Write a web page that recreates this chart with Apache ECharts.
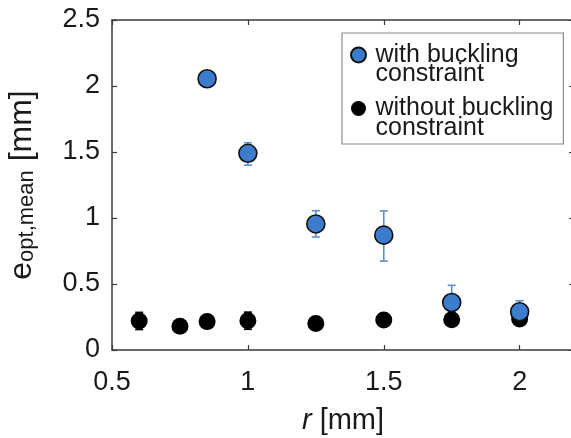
<!DOCTYPE html>
<html><head><meta charset="utf-8">
<script src="https://cdn.jsdelivr.net/npm/echarts@6/dist/echarts.min.js"></script>
<style>html,body{margin:0;padding:0;background:#fff}#c{width:571px;height:438px}</style>
</head><body><div id="c"></div>
<script>
// ---- data ----
const withR    = [0.85, 1.0, 1.25, 1.5, 1.75, 2.0];
const withMean = [2.055, 1.49, 0.955, 0.87, 0.36, 0.29];
const withLow  = [2.055, 1.40, 0.856, 0.674, 0.227, 0.215];
const withHigh = [2.055, 1.57, 1.055, 1.053, 0.49, 0.373];

const withoutR    = [0.6, 0.75, 0.85, 1.0, 1.25, 1.5, 1.75, 2.0];
const withoutMean = [0.22, 0.18, 0.215, 0.222, 0.20, 0.227, 0.23, 0.235];
const withoutLow  = [0.155, 0.18, 0.215, 0.157, 0.20, 0.19, 0.20, 0.205];
const withoutHigh = [0.285, 0.18, 0.215, 0.287, 0.20, 0.265, 0.26, 0.265];

const seriesNames = ['with buckling\nconstraint', 'without buckling\nconstraint'];
const xLabel = ['r', ' [mm]'];
const yLabel = ['e', 'opt,mean', ' [mm]'];

// ---- chart ----
const FONT = '"Liberation Sans", Arial, Helvetica, sans-serif';
const AX = '#3a3a3a';
const BLUE = '#3b7ccc';
const BLUE_ERR = '#5a8fd0';

function errSeries(name, xs, lo, hi, color) {
  return {
    type: 'custom', name: name, silent: true,
    data: xs.map((x, i) => [x, lo[i], hi[i]]),
    encode: { x: 0, y: [1, 2] },
    renderItem: function (params, api) {
      const x = api.value(0);
      const a = api.coord([x, api.value(1)]);
      const b = api.coord([x, api.value(2)]);
      const w = 4;
      const st = { stroke: color, lineWidth: 1.6 };
      return { type: 'group', children: [
        { type: 'line', shape: { x1: a[0], y1: a[1], x2: b[0], y2: b[1] }, style: st },
        { type: 'line', shape: { x1: a[0] - w, y1: a[1], x2: a[0] + w, y2: a[1] }, style: st },
        { type: 'line', shape: { x1: b[0] - w, y1: b[1], x2: b[0] + w, y2: b[1] }, style: st }
      ]};
    }
  };
}

const axisCommon = {
  axisLine: { show: true, onZero: false, lineStyle: { color: AX, width: 1.5 } },
  axisTick: { show: true, inside: true, length: 5, lineStyle: { color: AX, width: 1.2 } },
  splitLine: { show: false }
};

const chart = echarts.init(document.getElementById('c'));
chart.setOption({
  animation: false,
  backgroundColor: '#fff',
  grid: { left: 112, right: -3, top: 20, bottom: 88, containLabel: false, outerBoundsMode: 'none' },
  legend: {
    data: seriesNames,
    orient: 'vertical',
    left: 342, top: 33,
    backgroundColor: '#fff',
    borderColor: '#8a8a8a', borderWidth: 1.2,
    padding: [-10, 10, 3.5, 8],
    itemWidth: 24, itemHeight: 15, itemGap: -10.5,
    icon: 'circle',
    selectedMode: false,
    formatter: name => '\n' + name,
    textStyle: { fontFamily: FONT, fontSize: 25, lineHeight: 19.5, color: '#1a1a1a' }
  },
  xAxis: [
    Object.assign({}, axisCommon, {
      type: 'value', min: 0.5, max: 2.2, interval: 0.5, position: 'bottom',
      name: '{i|' + xLabel[0] + '}' + xLabel[1], nameLocation: 'middle', nameGap: 56,
      nameTextStyle: { fontFamily: FONT, fontSize: 29, color: '#1a1a1a',
        rich: { i: { fontFamily: FONT, fontSize: 29, fontStyle: 'italic', color: '#1a1a1a' } } },
      axisLabel: { fontFamily: FONT, fontSize: 27, color: '#1a1a1a', margin: 19, showMaxLabel: false,
        formatter: v => String(v) }
    }),
    Object.assign({}, axisCommon, {
      type: 'value', min: 0.5, max: 2.2, interval: 0.5, position: 'top',
      axisLabel: { show: false }
    })
  ],
  yAxis: [
    Object.assign({}, axisCommon, {
      type: 'value', min: 0, max: 2.5, interval: 0.5, position: 'left',
      name: '{b|' + yLabel[0] + '}{s|' + yLabel[1] + '}{b|' + yLabel[2] + '}',
      nameLocation: 'middle', nameGap: 74,
      nameTextStyle: { fontFamily: FONT, color: '#1a1a1a',
        rich: {
          b: { fontFamily: FONT, fontSize: 32, color: '#1a1a1a', lineHeight: 32, verticalAlign: 'top' },
          s: { fontFamily: FONT, fontSize: 22, color: '#1a1a1a', lineHeight: 22, verticalAlign: 'bottom', padding: [13, 0, 0, 0] }
        } },
      axisLabel: { fontFamily: FONT, fontSize: 27, color: '#1a1a1a', margin: 12 }
    }),
    Object.assign({}, axisCommon, {
      type: 'value', min: 0, max: 2.5, interval: 0.5, position: 'right',
      axisLine: { show: false },
      axisLabel: { show: false }
    })
  ],
  series: [
    errSeries('err-without', withoutR, withoutLow, withoutHigh, '#000'),
    { type: 'scatter', name: seriesNames[1], symbol: 'circle', symbolSize: 17,
      itemStyle: { color: '#000', opacity: 1 },
      data: withoutR.map((x, i) => [x, withoutMean[i]]) },
    errSeries('err-with', withR, withLow, withHigh, BLUE_ERR),
    { type: 'scatter', name: seriesNames[0], symbol: 'circle', symbolSize: 18,
      itemStyle: { color: BLUE, borderColor: '#111', borderWidth: 1.6, opacity: 1 },
      data: withR.map((x, i) => [x, withMean[i]]) }
  ]
});
</script>
</body></html>
